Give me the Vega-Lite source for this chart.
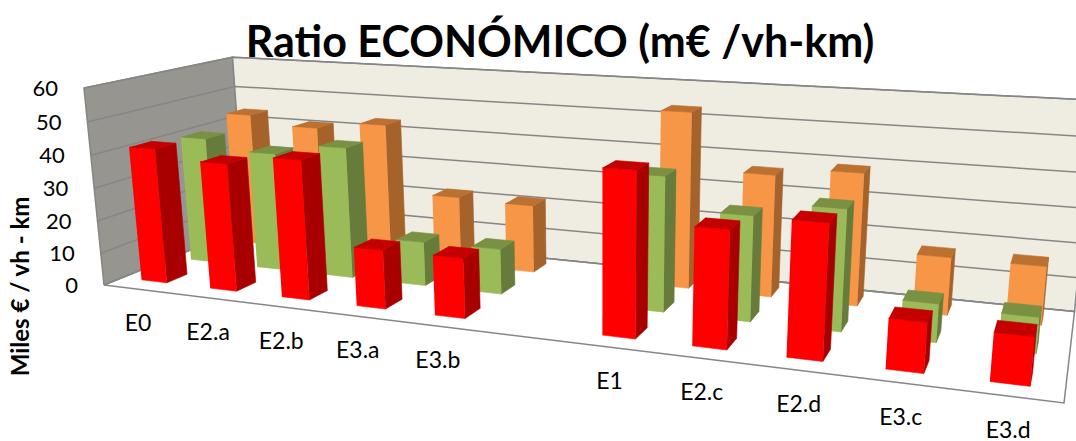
{
  "$schema": "https://vega.github.io/schema/vega-lite/v6.json",
  "width": 1076,
  "height": 441,
  "autosize": "none",
  "padding": 0,
  "background": "white",
  "title": {
    "text": "Ratio ECONÓMICO (m€ /vh-km)",
    "font": "Lato",
    "fontSize": 43,
    "fontWeight": "bold",
    "color": "#000000",
    "anchor": "middle",
    "frame": "group",
    "baseline": "middle",
    "offset": 0,
    "dx": 22,
    "dy": 87
  },
  "config": {"view": {"stroke": null}},
  "datasets": {
    "valores": [
      {"escenario": "E0", "serie": "naranja", "valor": 43.6},
      {"escenario": "E2.a", "serie": "naranja", "valor": 40.8},
      {"escenario": "E2.b", "serie": "naranja", "valor": 43.3},
      {"escenario": "E3.a", "serie": "naranja", "valor": 21.8},
      {"escenario": "E3.b", "serie": "naranja", "valor": 21.2},
      {"escenario": "E1", "serie": "naranja", "valor": 53.1},
      {"escenario": "E2.c", "serie": "naranja", "valor": 36.4},
      {"escenario": "E2.d", "serie": "naranja", "valor": 38.8},
      {"escenario": "E3.c", "serie": "naranja", "valor": 16.8},
      {"escenario": "E3.d", "serie": "naranja", "valor": 16.7},
      {"escenario": "E0", "serie": "verde", "valor": 40.1},
      {"escenario": "E2.a", "serie": "verde", "valor": 37.0},
      {"escenario": "E2.b", "serie": "verde", "valor": 40.5},
      {"escenario": "E3.a", "serie": "verde", "valor": 13.5},
      {"escenario": "E3.b", "serie": "verde", "valor": 13.7},
      {"escenario": "E1", "serie": "verde", "valor": 39.3},
      {"escenario": "E2.c", "serie": "verde", "valor": 30.2},
      {"escenario": "E2.d", "serie": "verde", "valor": 34.2},
      {"escenario": "E3.c", "serie": "verde", "valor": 10.7},
      {"escenario": "E3.d", "serie": "verde", "valor": 9.9},
      {"escenario": "E0", "serie": "rojo", "valor": 41.4},
      {"escenario": "E2.a", "serie": "rojo", "valor": 38.7},
      {"escenario": "E2.b", "serie": "rojo", "valor": 41.6},
      {"escenario": "E3.a", "serie": "rojo", "valor": 17.4},
      {"escenario": "E3.b", "serie": "rojo", "valor": 17.5},
      {"escenario": "E1", "serie": "rojo", "valor": 45.9},
      {"escenario": "E2.c", "serie": "rojo", "valor": 32.3},
      {"escenario": "E2.d", "serie": "rojo", "valor": 36.3},
      {"escenario": "E3.c", "serie": "rojo", "valor": 13.3},
      {"escenario": "E3.d", "serie": "rojo", "valor": 12.6}
    ],
    "planos": [{"plano": "lateral"}, {"plano": "fondo"}, {"plano": "suelo"}],
    "marcas": [
      {"marca": 0}, {"marca": 10}, {"marca": 20}, {"marca": 30},
      {"marca": 40}, {"marca": 50}, {"marca": 60}
    ],
    "categorias": [
      {"escenario": "E0"}, {"escenario": "E2.a"}, {"escenario": "E2.b"},
      {"escenario": "E3.a"}, {"escenario": "E3.b"}, {"escenario": "E1"},
      {"escenario": "E2.c"}, {"escenario": "E2.d"}, {"escenario": "E3.c"},
      {"escenario": "E3.d"}
    ]
  },
  "layer": [
    {
      "data": {"name": "planos"},
      "transform": [
        {"calculate": "[0,1,2,3,4]", "as": "vertice"},
        {"flatten": ["vertice"]},
        {"calculate": "{'lateral':[[0,0,0],[0,1,0],[0,1,1],[0,0,1],[0,0,0]],'fondo':[[0,1,0],[1,1,0],[1,1,1],[0,1,1],[0,1,0]],'suelo':[[0,0,0],[1,0,0],[1,1,0],[0,1,0],[0,0,0]]}[datum.plano][datum.vertice]", "as": "m"},
        {"calculate": "1-0.23*datum.m[0]+0.16*datum.m[1]-0.0388*datum.m[2]", "as": "w"},
        {"calculate": "(715.3*datum.m[0]+180*datum.m[1]+104-23.3*datum.m[2])/datum.w", "as": "px"},
        {"calculate": "(25.3*datum.m[0]-20.5*datum.m[1]+285-200.4*datum.m[2])/datum.w", "as": "py"}
      ],
      "mark": {"type": "line", "stroke": "#868686", "strokeWidth": 1.5, "clip": true},
      "encoding": {
        "x": {"field": "px", "type": "quantitative", "axis": null, "scale": {"domain": [0, 1076], "nice": false, "zero": false}},
        "y": {
          "field": "py",
          "type": "quantitative",
          "scale": {"domain": [441, 0], "nice": false, "zero": false},
          "axis": {
            "title": "Miles € / vh - km",
            "titleFont": "Lato",
            "titleFontSize": 24,
            "titleFontWeight": "bold",
            "titleColor": "#000000",
            "titleAngle": -90,
            "titleAlign": "center",
            "titleBaseline": "middle",
            "titleX": 21,
            "titleY": 286,
            "domain": false,
            "ticks": false,
            "labels": false,
            "grid": false
          }
        },
        "fill": {
          "field": "plano",
          "type": "nominal",
          "legend": null,
          "scale": {"domain": ["lateral", "fondo", "suelo"], "range": ["#969590", "#EFEDE2", "#FFFFFF"]}
        },
        "order": {"field": "vertice"}
      }
    },
    {
      "data": {"name": "marcas"},
      "transform": [
        {"calculate": "[0,1,2]", "as": "vertice"},
        {"flatten": ["vertice"]},
        {"calculate": "[[0,0],[0,1],[1,1]][datum.vertice]", "as": "m"},
        {"calculate": "datum.marca/60", "as": "h"},
        {"calculate": "1-0.23*datum.m[0]+0.16*datum.m[1]-0.0388*datum.h", "as": "w"},
        {"calculate": "(715.3*datum.m[0]+180*datum.m[1]+104-23.3*datum.h)/datum.w", "as": "px"},
        {"calculate": "(25.3*datum.m[0]-20.5*datum.m[1]+285-200.4*datum.h)/datum.w", "as": "py"}
      ],
      "mark": {"type": "line", "stroke": "#868686", "strokeWidth": 1.5, "clip": true},
      "encoding": {
        "x": {"field": "px", "type": "quantitative", "axis": null},
        "y": {"field": "py", "type": "quantitative"},
        "detail": {"field": "marca"},
        "order": {"field": "vertice"}
      }
    },
    {
      "data": {"name": "valores"},
      "transform": [
        {"calculate": "['frente','lado','tapa']", "as": "cara"},
        {"flatten": ["cara"]},
        {"calculate": "[0,1,2,3]", "as": "vertice"},
        {"flatten": ["vertice"]},
        {"calculate": "indexof(['E0','E2.a','E2.b','E3.a','E3.b','','E1','E2.c','E2.d','E3.c','E3.d'],datum.escenario)/10.98+0.026", "as": "u0"},
        {"calculate": "0.115+0.335*{'rojo':0,'verde':1,'naranja':2}[datum.serie]", "as": "v0"},
        {"calculate": "{'frente':[[0,0,0],[1,0,0],[1,0,1],[0,0,1]],'lado':[[1,0,0],[1,1,0],[1,1,1],[1,0,1]],'tapa':[[0,0,1],[1,0,1],[1,1,1],[0,1,1]]}[datum.cara][datum.vertice]", "as": "m"},
        {"calculate": "datum.u0+0.034*datum.m[0]", "as": "cu"},
        {"calculate": "datum.v0+0.135*datum.m[1]", "as": "cv"},
        {"calculate": "datum.valor/60*datum.m[2]", "as": "ch"},
        {"calculate": "1-0.23*datum.cu+0.16*datum.cv-0.0388*datum.ch", "as": "w"},
        {"calculate": "(715.3*datum.cu+180*datum.cv+104-23.3*datum.ch)/datum.w", "as": "px"},
        {"calculate": "(25.3*datum.cu-20.5*datum.cv+285-200.4*datum.ch)/datum.w", "as": "py"},
        {"calculate": "datum.serie+'-'+datum.cara", "as": "tono"},
        {"calculate": "datum.escenario+'-'+datum.tono", "as": "poligono"}
      ],
      "mark": {"type": "line", "strokeWidth": 0.6, "clip": true},
      "encoding": {
        "x": {"field": "px", "type": "quantitative", "axis": null},
        "y": {"field": "py", "type": "quantitative"},
        "detail": {"field": "poligono"},
        "order": {"field": "vertice"},
        "fill": {
          "field": "tono",
          "type": "nominal",
          "legend": null,
          "scale": {
            "domain": ["rojo-frente", "rojo-lado", "rojo-tapa", "verde-frente", "verde-lado", "verde-tapa", "naranja-frente", "naranja-lado", "naranja-tapa"],
            "range": ["#FF0000", "#A80000", "#C40000", "#9BBB59", "#677B3B", "#7A9143", "#F79646", "#A5622B", "#BC7131"]
          }
        },
        "stroke": {
          "field": "tono",
          "type": "nominal",
          "legend": null,
          "scale": {
            "domain": ["rojo-frente", "rojo-lado", "rojo-tapa", "verde-frente", "verde-lado", "verde-tapa", "naranja-frente", "naranja-lado", "naranja-tapa"],
            "range": ["#FF0000", "#A80000", "#C40000", "#9BBB59", "#677B3B", "#7A9143", "#F79646", "#A5622B", "#BC7131"]
          }
        }
      }
    },
    {
      "data": {"name": "marcas"},
      "transform": [
        {"calculate": "datum.marca/60", "as": "h"},
        {"calculate": "1-0.0388*datum.h", "as": "w"},
        {"calculate": "(104-23.3*datum.h)/datum.w", "as": "px"},
        {"calculate": "(285-200.4*datum.h)/datum.w", "as": "py"}
      ],
      "mark": {"type": "text", "font": "Lato", "fontSize": 22, "align": "right", "baseline": "middle", "dx": -26, "dy": 1, "color": "#000000"},
      "encoding": {
        "x": {"field": "px", "type": "quantitative", "axis": null},
        "y": {"field": "py", "type": "quantitative"},
        "text": {"field": "marca", "type": "quantitative"}
      }
    },
    {
      "data": {"name": "categorias"},
      "transform": [
        {"calculate": "(indexof(['E0','E2.a','E2.b','E3.a','E3.b','','E1','E2.c','E2.d','E3.c','E3.d'],datum.escenario)+0.5)/11", "as": "cu"},
        {"calculate": "1-0.23*datum.cu", "as": "w"},
        {"calculate": "(715.3*datum.cu+104)/datum.w", "as": "px"},
        {"calculate": "(25.3*datum.cu+285)/datum.w", "as": "py"}
      ],
      "mark": {"type": "text", "font": "Lato", "fontSize": 23, "align": "center", "baseline": "middle", "dy": 35, "color": "#000000"},
      "encoding": {
        "x": {"field": "px", "type": "quantitative", "axis": null},
        "y": {"field": "py", "type": "quantitative"},
        "text": {"field": "escenario", "type": "nominal"}
      }
    }
  ],
  "resolve": {"scale": {"fill": "independent", "stroke": "independent"}}
}
